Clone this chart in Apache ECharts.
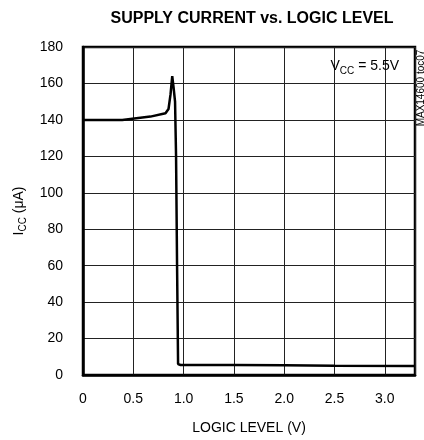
<!DOCTYPE html>
<html>
<head>
<meta charset="utf-8">
<script src="https://cdn.jsdelivr.net/npm/echarts@6/dist/echarts.min.js"></script>
<style>
  html, body { margin: 0; padding: 0; background: #fff; }
  #chart { width: 424px; height: 440px; }
</style>
</head>
<body>
<div id="chart"></div>
<script>
// logic level (V) and supply current (uA)
var logicLevel = [0, 0.39, 0.67, 0.82, 0.85, 0.87, 0.887, 0.9, 0.915, 0.925, 0.935, 0.945, 0.97, 1.5, 2.0, 2.5, 3.3];
var supplyCurrent = [140, 140, 141.8, 143.6, 146, 154, 164, 158, 150, 120, 60, 6, 5.5, 5.5, 5.3, 5.1, 5];

var xTicks = { min: 0, max: 3.3, interval: 0.5 };
var yTicks = { min: 0, max: 180, interval: 20 };

var font = '"Liberation Sans", Arial, sans-serif';

var chart = echarts.init(document.getElementById('chart'));

var points = logicLevel.map(function(x, i) { return [x, supplyCurrent[i]]; });

var subRich = {
  a: { fontFamily: font, fontSize: 14, color: '#000', lineHeight: 20, verticalAlign: 'middle' },
  b: { fontFamily: font, fontSize: 10, color: '#000', lineHeight: 20, verticalAlign: 'bottom', padding: [6, 0, 0, 0] }
};

var option = {
  animation: false,
  textStyle: { fontFamily: font },
  title: [
    {
      text: 'SUPPLY CURRENT vs. LOGIC LEVEL',
      left: 247,
      textAlign: 'center',
      top: 6,
      textStyle: { fontFamily: font, fontSize: 16, fontWeight: 'bold', color: '#000' }
    },
    {
      text: '{a|V}{b|CC}{a| = 5.5V}',
      right: 20,
      top: 51,
      textStyle: { fontWeight: 'normal', rich: subRich }
    }
  ],
  graphic: [
    {
      type: 'text',
      x: 421,
      y: 88,
      rotation: Math.PI / 2,
      style: {
        text: 'MAX14600 toc07',
        fontFamily: font,
        fontSize: 10,
        fill: '#000',
        align: 'center',
        verticalAlign: 'middle'
      }
    }
  ],
  grid: {
    left: 83,
    right: 9,
    top: 47,
    bottom: 62,
    show: true,
    borderColor: '#000',
    borderWidth: 2.5
  },
  xAxis: {
    type: 'value',
    min: xTicks.min,
    max: xTicks.max,
    interval: xTicks.interval,
    name: 'LOGIC LEVEL (V)',
    nameLocation: 'middle',
    nameGap: 46,
    nameTextStyle: { fontFamily: font, fontSize: 14, color: '#000' },
    axisLine: { show: true, lineStyle: { color: '#000', width: 2.5 } },
    axisTick: { show: false },
    axisLabel: {
      margin: 17,
      fontFamily: font,
      fontSize: 14,
      color: '#000',
      showMaxLabel: false,
      formatter: function(v) { return v === 0 ? '0' : v.toFixed(1); }
    },
    splitLine: { show: true, lineStyle: { color: '#222', width: 1 } }
  },
  yAxis: {
    type: 'value',
    min: yTicks.min,
    max: yTicks.max,
    interval: yTicks.interval,
    name: '{a|I}{b|CC}{a| (μA)}',
    nameLocation: 'middle',
    nameGap: 34,
    nameTextStyle: { rich: subRich },
    axisLine: { show: true, lineStyle: { color: '#000', width: 2.5 } },
    axisTick: { show: false },
    axisLabel: { margin: 20, fontFamily: font, fontSize: 14, color: '#000' },
    splitLine: { show: true, lineStyle: { color: '#222', width: 1 } }
  },
  series: [
    {
      type: 'line',
      data: points,
      showSymbol: false,
      symbol: 'none',
      lineStyle: { color: '#000', width: 2.5 },
      clip: true
    }
  ]
};

chart.setOption(option);
</script>
</body>
</html>
